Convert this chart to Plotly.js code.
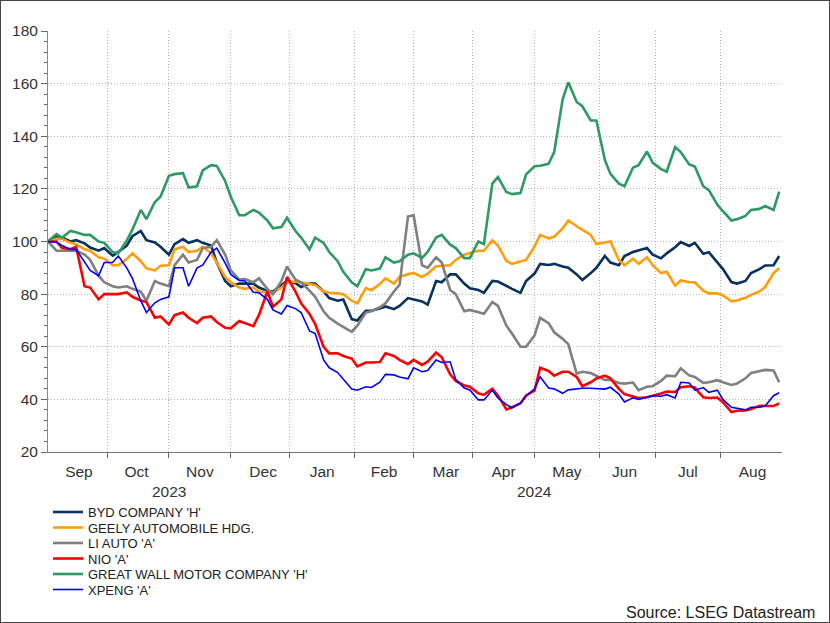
<!DOCTYPE html>
<html>
<head>
<meta charset="utf-8">
<script src="https://cdn.plot.ly/plotly-3.0.1.min.js"></script>
<style>
  html, body { margin: 0; padding: 0; background: #fff; }
  #chart { width: 828px; height: 621px; border: 1px solid #444; }
</style>
</head>
<body>
<div id="chart"></div>
<script>
// Observation dates (Wednesdays and Fridays)
const dates = [
  '2023-09-01','2023-09-06','2023-09-08','2023-09-13','2023-09-15','2023-09-20','2023-09-22','2023-09-27','2023-09-29',
  '2023-10-04','2023-10-06','2023-10-11','2023-10-13','2023-10-18','2023-10-20','2023-10-25','2023-10-27',
  '2023-11-01','2023-11-03','2023-11-08','2023-11-10','2023-11-15','2023-11-17','2023-11-22','2023-11-24',
  '2023-11-29','2023-12-01','2023-12-06','2023-12-08','2023-12-13','2023-12-15','2023-12-20','2023-12-22','2023-12-27','2023-12-29',
  '2024-01-03','2024-01-05','2024-01-10','2024-01-12','2024-01-17','2024-01-19','2024-01-24','2024-01-26',
  '2024-01-31','2024-02-02','2024-02-07','2024-02-09','2024-02-14','2024-02-16','2024-02-21','2024-02-23',
  '2024-02-28','2024-03-01','2024-03-06','2024-03-08','2024-03-13','2024-03-15','2024-03-20','2024-03-22','2024-03-27','2024-03-29',
  '2024-04-03','2024-04-05','2024-04-10','2024-04-12','2024-04-17','2024-04-19','2024-04-24','2024-04-26',
  '2024-05-01','2024-05-03','2024-05-08','2024-05-10','2024-05-15','2024-05-17','2024-05-22','2024-05-24','2024-05-29','2024-05-31',
  '2024-06-05','2024-06-07','2024-06-12','2024-06-14','2024-06-19','2024-06-21','2024-06-26','2024-06-28',
  '2024-07-03','2024-07-05','2024-07-10','2024-07-12','2024-07-17','2024-07-19','2024-07-24','2024-07-26',
  '2024-07-31','2024-08-02','2024-08-07','2024-08-09','2024-08-14','2024-08-16','2024-08-21','2024-08-23','2024-08-28','2024-08-30'
];

const seriesNames = ["BYD COMPANY 'H'", "GEELY AUTOMOBILE HDG.", "LI AUTO 'A'", "NIO 'A'", "GREAT WALL MOTOR COMPANY 'H'", "XPENG 'A'"];

const byd = [
  100,102,101.5,100,100.5,99.3,97.7,96.5,97.5,
  94.6,96,98.4,102,104,100.5,99.6,98,
  95,99,100.9,99.5,100.5,99.5,98.5,92,
  85,83,84,84,84,82.5,81.2,81,83.5,85,
  84.2,82.7,84,84,81,78.5,77.5,78,
  70.5,70,73.7,73.7,74.5,75.3,74.3,75.5,
  78.5,78,77.2,76,85,84.5,87.5,87.5,84,82.2,
  81.6,80.5,85,84.8,83,82,80.5,85,
  87.8,91.5,91.1,91.5,90.5,90,87.5,85.4,88,90,
  94.5,92,91,94.5,96,96.6,97.5,95,
  93.6,95.5,97.8,99.8,98.3,99.5,95.3,95.9,
  92.1,89.5,84.6,84,85,88,89.5,90.9,91,94.5
];

const geely = [
  100,101,101,99.5,99,97,96.5,94,93.5,
  91,91,93.3,95.5,92.5,89.8,89,90.8,
  91,97,98,96,96.5,98,95.5,92,
  86.5,84.5,82.5,82,82.5,81,80.6,80.6,82.5,84.4,
  84.8,84.5,83.8,83.5,81,80.5,80.3,80,
  77.5,76.5,82.3,81.5,83.8,86,84,86.5,
  87.6,88,86.5,87.8,90.6,90.8,91,93,95,95.6,
  96.5,96.5,100.4,98.5,92.6,91.5,92.5,93,
  98.1,102.5,101.2,101.8,105,108,105.8,104.4,102.5,99,
  99.5,100,93,91,93.5,91.5,94,91,
  88,88.5,83.3,85.2,84.5,84.5,81.3,80.3,
  80.3,79.5,77.3,77.6,78.6,79.7,81,82.7,88,89.8
];

const liAuto = [
  100,96.5,96.5,96.5,96.5,95,93,87,84.5,
  83,82.5,83,82,81,77.5,85,84,
  83,91,95,92,93,97.5,98,100.5,
  95,89,85.5,85.7,84.5,86,82,80,85,90.5,
  85.5,84.5,81.3,79,73.5,71,68.8,67.5,
  65.7,68,73,73.5,75,76.5,81,83.5,
  109.5,110,91,90,94,92,81.6,80,73.5,74,
  73,72.5,77,75.5,68,65,60,60,
  64.3,71,69,65.5,63,61,49.8,50.5,50,49,
  47.4,47.4,46.2,46,46.4,43.5,44.8,45,
  47,49,48.8,51.8,49.1,48.5,46.3,46.5,
  47.3,46.5,45.5,46,48,50,50.8,51.2,51,46.5
];

const nio = [
  100,100,97.5,97.1,98,83,82.5,78,80,
  80,80,80.7,79,77.6,77,71,71.5,
  68.5,72,73,71,69,71,71.5,69.4,
  67.2,67,69.8,69,67.8,72,81,75.2,78,86.5,
  81,76.5,72.5,68.6,60,57.5,57.5,56.5,
  55.5,52.5,54,54,54.2,57.5,56.5,55,
  53.4,55,53.1,54.3,57.8,56,49.5,47,45.3,44.8,
  42.3,41.7,44,41.5,36.2,37,38.5,41.5,
  43.3,52,50.8,49,50.5,50.5,48.5,45,46.5,48,
  49,48,44,42,41,40.5,40.8,41.3,
  42.2,43,42.8,44.6,45,44.5,40.8,40.5,
  40.7,38.9,35.2,35.7,35.8,36.3,37.6,37.5,37.5,38.5
];

const greatWall = [
  100,102.8,101.5,104,103.5,102.5,102.5,100,99.5,
  96,95.5,100.3,104.5,112,108.5,115,117,
  125,125.6,126,120.5,121,127,129,128.7,
  123,117,110,110,112,111,108,105,105.5,109,
  104,101.5,97,101.5,99.5,96,92.5,88.5,
  84.5,83,89.5,89,89.7,94,92,92.5,
  95,95.5,93.8,96,101.5,102.5,98.8,97.5,93.7,93.7,
  100,99,122,124.5,118.8,118,118.4,125.5,
  128.6,128.8,129.5,134,154,160.5,153,151.4,146,146,
  131,125.7,122,121,128,129,134.2,130,
  127.5,126.5,135.9,134,129.3,128.5,121,119.5,
  114,111.5,108,108.5,109.7,112,112.4,113.5,112,119
];

const xpeng = [
  100,99.7,98.5,97,97,92,89,87,92,
  92,94.5,90,86,77.5,73,76.7,78,
  79,90,90,83,90,91,96,97.5,
  91.8,87.5,85.2,85,80.7,80.5,78,74,72.5,75.7,
  74.5,73,66,65,55,52,50.2,47.5,
  43.9,43.5,44.8,44.5,46.5,49.5,49.3,48.5,
  47.8,52,50.5,51,55,54,54.3,47.5,44.3,43.6,
  39.8,39.8,43.5,40.5,38,36.8,38.5,41.3,
  44,48.6,44.3,44,42.3,43.6,44,44.2,44.2,44,
  43.9,44.6,42,39,40.6,40,40.9,41.4,
  41.2,41.8,40.5,46.5,46.2,43.5,44.5,42.7,
  43.5,40,37,36.5,36,37,37,37.5,41.4,42.5
];

const yearLabels = [{text: '2023', at: '2023-11-01'}, {text: '2024', at: '2024-05-01'}];
const sourceText = 'Source: LSEG Datastream';

const seriesValues = [byd, geely, liAuto, nio, greatWall, xpeng];
const colors = ['#07315e', '#ff9d0a', '#808080', '#ff0000', '#2e9a63', '#0000ff'];
const widths = [2.6, 2.6, 2.6, 2.6, 2.6, 1.6];

const data = seriesValues.map((vals, i) => ({
  type: 'scatter',
  mode: 'lines',
  x: dates,
  y: vals,
  name: seriesNames[i],
  line: { color: colors[i], width: widths[i] },
  hoverinfo: 'skip'
}));

const tickFont = { family: 'Liberation Sans, Arial, sans-serif', size: 15.5, color: '#333' };
const gridDash = '1px,2px';

const layout = {
  width: 828,
  height: 621,
  margin: { l: 47, r: 47, t: 30, b: 170, autoexpand: false },
  paper_bgcolor: '#fff',
  plot_bgcolor: '#fff',
  showlegend: true,
  font: { family: 'Liberation Sans, Arial, sans-serif', color: '#333' },
  xaxis: {
    type: 'date',
    range: ['2023-09-01', '2024-08-31'],
    rangebreaks: [{ bounds: ['sat', 'mon'] }],
    tick0: '2023-09-01',
    dtick: 'M1',
    tickformat: '%b',
    ticklabelmode: 'period',
    ticks: 'outside',
    ticklen: 5,
    tickcolor: '#666',
    showline: true,
    linecolor: '#777',
    linewidth: 1,
    showgrid: true,
    gridcolor: '#b5b5b5',
    griddash: gridDash,
    gridwidth: 1,
    zeroline: false,
    tickfont: tickFont,
    fixedrange: true
  },
  yaxis: {
    range: [20, 180],
    dtick: 20,
    ticks: 'outside',
    ticklen: 6,
    tickcolor: '#666',
    showline: true,
    linecolor: '#888',
    showgrid: true,
    gridcolor: '#b5b5b5',
    griddash: gridDash,
    zeroline: false,
    tickfont: tickFont,
    minor: { dtick: 4, ticks: 'outside', ticklen: 3, tickcolor: '#666', showgrid: false },
    fixedrange: true
  },
  yaxis2: {
    overlaying: 'y',
    side: 'right',
    range: [20, 180],
    dtick: 20,
    ticks: 'outside',
    ticklen: 6,
    tickcolor: '#666',
    showline: true,
    linecolor: '#888',
    showgrid: false,
    zeroline: false,
    tickfont: tickFont,
    minor: { dtick: 4, ticks: 'outside', ticklen: 3, tickcolor: '#666', showgrid: false },
    fixedrange: true
  },
  legend: {
    orientation: 'v',
    x: 0,
    xanchor: 'left',
    y: -0.107,
    yanchor: 'top',
    bgcolor: 'rgba(0,0,0,0)',
    borderwidth: 0,
    font: { family: 'Liberation Sans, Arial, sans-serif', size: 13, color: '#222' },
    traceorder: 'normal'
  },
  annotations: yearLabels.map(y => ({
    text: y.text, x: y.at, xref: 'x', y: -0.095, yref: 'paper',
    xanchor: 'center', yanchor: 'middle', showarrow: false, font: tickFont
  })).concat([{
    text: sourceText, x: 1.0475, xref: 'paper', y: -0.381, yref: 'paper',
    xanchor: 'right', yanchor: 'middle', showarrow: false,
    font: { family: 'Liberation Sans, Arial, sans-serif', size: 16, color: '#222' }
  }])
};

const gd = document.getElementById('chart');
Plotly.newPlot(gd, data, layout, { displayModeBar: false, staticPlot: true }).then(function () {
  const items = gd.querySelectorAll('.legend .traces');
  if (!items.length) return;
  const m = /translate\(\s*([-\d.]+)[,\s]+([-\d.]+)\s*\)/.exec(items[0].getAttribute('transform') || '');
  if (!m) return;
  const bx = parseFloat(m[1]), by = parseFloat(m[2]);
  const step = 15.5;
  items.forEach(function (el, i) {
    el.setAttribute('transform', 'translate(' + bx + ',' + (by + i * step) + ')');
  });
});
</script>
</body>
</html>
